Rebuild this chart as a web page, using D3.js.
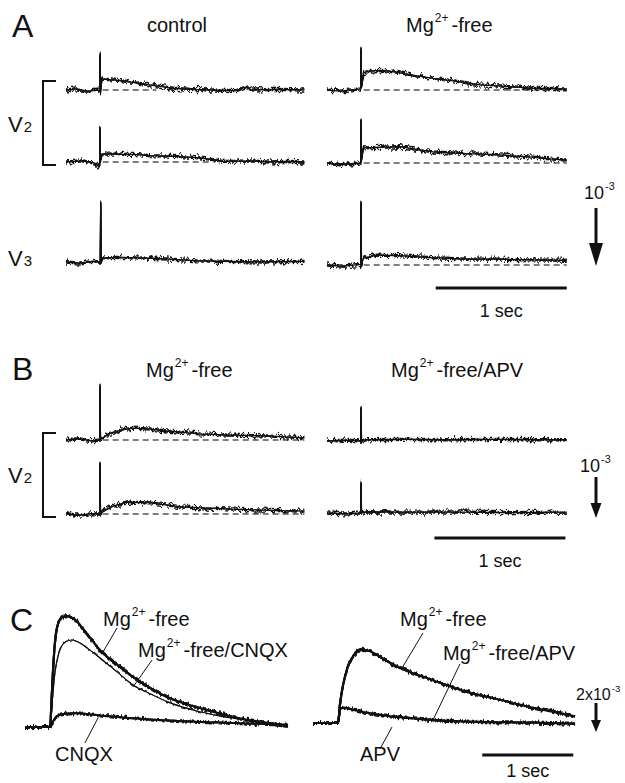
<!DOCTYPE html>
<html>
<head>
<meta charset="utf-8">
<script src="https://cdn.jsdelivr.net/npm/d3@7"></script>
<style>
  html, body { margin: 0; padding: 0; background: #fff; }
  svg { display: block; }
</style>
</head>
<body>
<script>
// time in seconds from start of sweep, signal in units of 1e-3

// Panel A, control
const aCtlV2top = [[0,0],[0.08,0.02],[0.16,-0.02],[0.257,0],[0.26,0.6],[0.263,-0.03],[0.275,0.19],[0.33,0.18],[0.42,0.16],[0.51,0.13],[0.6,0.1],[0.69,0.07],[0.82,0.03],[0.95,0.01],[1.1,0],[1.3,-0.01],[1.37,0.05],[1.42,0],[1.6,0.01],[1.82,0]];
const aCtlV2bot = [[0,0],[0.12,0.02],[0.22,-0.02],[0.25,-0.08],[0.257,-0.05],[0.26,0.58],[0.263,0.02],[0.275,0.14],[0.4,0.13],[0.51,0.13],[0.64,0.11],[0.76,0.1],[0.9,0.09],[1.02,0.07],[1.12,0.04],[1.2,0.01],[1.4,0.02],[1.55,0],[1.7,0.01],[1.82,0]];
const aCtlV3 = [[0,0],[0.1,-0.02],[0.2,0.01],[0.262,0],[0.265,1.03],[0.268,0],[0.28,0.07],[0.4,0.08],[0.55,0.07],[0.7,0.06],[0.85,0.04],[1.0,0.02],[1.2,0.01],[1.5,0],[1.82,0.01]];
// Panel A, Mg2+-free
const aMgV2top = [[0,0],[0.1,-0.02],[0.257,0.02],[0.26,0.72],[0.263,0.05],[0.28,0.3],[0.35,0.33],[0.43,0.34],[0.55,0.3],[0.7,0.24],[0.81,0.2],[0.95,0.16],[1.05,0.13],[1.17,0.09],[1.3,0.07],[1.45,0.05],[1.57,0.03],[1.83,0.02]];
const aMgV2bot = [[0,0],[0.1,-0.03],[0.257,0],[0.26,0.74],[0.263,0.05],[0.28,0.26],[0.4,0.27],[0.56,0.28],[0.7,0.23],[0.81,0.19],[1.07,0.16],[1.32,0.14],[1.57,0.1],[1.7,0.07],[1.83,0.05]];
const aMgV3 = [[0,0],[0.12,-0.02],[0.257,0.01],[0.26,1.07],[0.263,0.02],[0.28,0.12],[0.38,0.17],[0.55,0.16],[0.69,0.14],[0.88,0.12],[1.07,0.1],[1.3,0.1],[1.57,0.09],[1.83,0.08]];

// Panel B
const bMgTop = [[0,0],[0.1,0.03],[0.2,-0.02],[0.257,0],[0.26,1.32],[0.263,0],[0.28,0.05],[0.34,0.17],[0.42,0.24],[0.51,0.29],[0.62,0.27],[0.77,0.22],[1.02,0.15],[1.25,0.12],[1.53,0.1],[1.82,0.05]];
const bMgBot = [[0,0],[0.1,-0.03],[0.2,0.01],[0.257,0],[0.26,1.24],[0.263,0],[0.28,0.05],[0.34,0.17],[0.46,0.29],[0.64,0.27],[0.9,0.17],[1.27,0.12],[1.55,0.09],[1.82,0.07]];
const bApvTop = [[0,0],[0.15,0.02],[0.257,0],[0.26,0.8],[0.263,0],[0.3,0.03],[0.6,0.04],[0.9,0.03],[1.3,0.04],[1.6,0.03],[1.83,0.03]];
const bApvBot = [[0,0],[0.15,-0.02],[0.257,0],[0.26,0.73],[0.263,0],[0.3,0.03],[0.6,0.02],[1.0,0.02],[1.4,0.01],[1.83,0.02]];

// Panel C (left: CNQX experiment, right: APV experiment)
const cMgFreeL = [[0,0],[0.275,0],[0.297,2.5],[0.319,5.0],[0.341,6.5],[0.374,7.3],[0.418,7.6],[0.473,7.65],[0.538,7.45],[0.66,6.6],[0.824,5.3],[1.011,4.3],[1.187,3.45],[1.374,2.7],[1.56,2.07],[1.736,1.66],[1.923,1.31],[2.286,0.69],[2.659,0.28],[2.89,0.07]];
const cMgCnqx = [[0,0],[0.275,0],[0.297,1.5],[0.319,3.2],[0.352,4.6],[0.396,5.5],[0.451,5.9],[0.516,6.0],[0.604,5.8],[0.714,5.3],[0.824,4.76],[1.011,3.8],[1.187,2.9],[1.374,2.3],[1.56,1.75],[1.923,1.05],[2.286,0.6],[2.659,0.3],[2.89,0.1]];
const cCnqx = [[0,0],[0.275,0],[0.308,0.4],[0.352,0.75],[0.418,0.9],[0.549,0.95],[0.824,0.8],[1.187,0.6],[1.56,0.45],[1.923,0.35],[2.286,0.28],[2.659,0.2],[2.89,0.15]];
const cMgFreeR = [[0,0],[0.275,0],[0.297,1.3],[0.33,2.6],[0.374,3.7],[0.429,4.5],[0.484,4.9],[0.538,5.05],[0.626,4.95],[0.791,4.35],[0.956,3.8],[1.319,2.95],[1.692,2.15],[2.055,1.6],[2.418,1.05],[2.659,0.75],[2.879,0.45]];
const cApv = [[0,0],[0.275,0],[0.297,1.0],[0.34,1.05],[0.45,0.9],[0.6,0.7],[0.8,0.5],[0.96,0.4],[1.32,0.2],[1.69,0.1],[2.05,0.05],[2.42,0.02],[2.88,-0.05]];

// C label leaders: [t, value] at label end and at trace end
const cLeaders = [
  {side: 0, from: [1.011, 6.83], to: [0.857, 5.17]},
  {side: 0, from: [1.396, 4.62], to: [1.187, 2.76]},
  {side: 0, from: [0.659, -1.1], to: [0.802, 0.62]},
  {side: 1, from: [1.209, 6.21], to: [0.978, 3.79]},
  {side: 1, from: [1.615, 4.07], to: [1.319, 0.21]},
  {side: 1, from: [0.736, -1.79], to: [0.868, -0.28]}
];

const W = 625, H = 783;
const FONT = "'Liberation Sans', Arial, Helvetica, sans-serif";
const INK = "#111";

const svg = d3.select("body").append("svg")
  .attr("width", W).attr("height", H)
  .attr("font-family", FONT).attr("fill", INK);

const defs = svg.append("defs");

// recording noise texture: a few vertically jittered copies of the trace
function noiseFilter(id, freq, scale, seeds) {
  const f = defs.append("filter").attr("id", id)
    .attr("filterUnits", "userSpaceOnUse")
    .attr("x", 0).attr("y", 0).attr("width", W).attr("height", H)
    .attr("color-interpolation-filters", "sRGB");
  seeds.forEach((s, i) => {
    f.append("feTurbulence").attr("type", "fractalNoise")
      .attr("baseFrequency", freq).attr("numOctaves", 2).attr("seed", s).attr("result", "t" + i);
    f.append("feColorMatrix").attr("in", "t" + i).attr("type", "matrix")
      .attr("values", "0 0 0 0 0.5  0 1 0 0 0  0 0 0 0 0  0 0 0 0 1").attr("result", "m" + i);
    f.append("feDisplacementMap").attr("in", "SourceGraphic").attr("in2", "m" + i)
      .attr("scale", scale).attr("xChannelSelector", "R").attr("yChannelSelector", "G").attr("result", "d" + i);
  });
  const mg = f.append("feMerge");
  seeds.forEach((s, i) => mg.append("feMergeNode").attr("in", "d" + i));
  mg.append("feMergeNode").attr("in", "SourceGraphic");
}
noiseFilter("noiseAB", "0.3 0.05", 11, [4, 11, 23]);
noiseFilter("noiseC", "0.4 0.05", 7, [7, 19]);
noiseFilter("noiseThin", "0.4 0.05", 4, [31]);

function drawTrace(data, x, y, opts) {
  const line = d3.line().x(d => x(d[0])).y(d => y(d[1])).curve(opts.curve || d3.curveLinear);
  svg.append("path")
    .datum(data)
    .attr("d", line)
    .attr("fill", "none")
    .attr("stroke", INK)
    .attr("stroke-width", opts.width || 1.2)
    .attr("stroke-linejoin", "round")
    .attr("filter", opts.filter ? `url(#${opts.filter})` : null);
}

function dashed(x, y, t0, t1) {
  svg.append("line")
    .attr("x1", x(t0)).attr("x2", x(t1))
    .attr("y1", y(0)).attr("y2", y(0))
    .attr("stroke", "#000").attr("stroke-width", 1.1)
    .attr("stroke-dasharray", "6,4");
}

function label(x, y, parts, size, anchor) {
  const t = svg.append("text")
    .attr("x", x).attr("y", y)
    .attr("font-size", size)
    .attr("text-anchor", anchor || "start");
  let up = false;
  parts.forEach(p => {
    const ts = t.append("tspan").text(p.s);
    if (p.sup) {
      ts.attr("font-size", size * 0.6).attr("dy", -size * 0.48).attr("dx", 1);
      up = true;
    } else {
      ts.attr("font-size", size);
      if (up) { ts.attr("dy", size * 0.48).attr("dx", 3); up = false; }
    }
  });
  return t;
}
const mgFree = suffix => [{s: "Mg"}, {s: "2+", sup: true}, {s: "-free" + (suffix || "")}];

function vLabel(x, y, digit) {
  const t = svg.append("text").attr("x", x).attr("y", y).attr("font-size", 22);
  t.append("tspan").text("V");
  t.append("tspan").text(digit).attr("font-size", 15).attr("dx", 1);
}

function bracket(x, y0, y1) {
  svg.append("path")
    .attr("d", `M${x + 13},${y0}H${x}V${y1}H${x + 13}`)
    .attr("fill", "none").attr("stroke", INK).attr("stroke-width", 2);
}

function timeBar(x, tEnd, yPix, textY, size) {
  svg.append("line")
    .attr("x1", x(tEnd - 1)).attr("x2", x(tEnd))
    .attr("y1", yPix).attr("y2", yPix)
    .attr("stroke", INK).attr("stroke-width", 3);
  label((x(tEnd - 1) + x(tEnd)) / 2, textY, [{s: "1 sec"}], size, "middle");
}

function ampArrow(xPix, tipY, y, units, headW, headH, text, textX, textY, size) {
  const len = Math.abs(y(units) - y(0));
  svg.append("line")
    .attr("x1", xPix).attr("x2", xPix)
    .attr("y1", tipY - len).attr("y2", tipY - headH + 2)
    .attr("stroke", INK).attr("stroke-width", 3);
  svg.append("path")
    .attr("d", `M${xPix - headW / 2},${tipY - headH}L${xPix + headW / 2},${tipY - headH}L${xPix},${tipY}Z`)
    .attr("fill", INK);
  label(textX, textY, text, size, "start");
}

// ---------- Panel A ----------
const xA = [
  d3.scaleLinear().domain([0, 1]).range([66, 197]),
  d3.scaleLinear().domain([0, 1]).range([327, 458])
];
const unitA = 58;
const yRow = (base, unit) => d3.scaleLinear().domain([0, 1]).range([base, base - unit]);

const tracesA = [
  {d: aCtlV2top, col: 0, base: 90, dashTo: 0.69},
  {d: aCtlV2bot, col: 0, base: 162, dashTo: 1.12},
  {d: aCtlV3, col: 0, base: 262, dashTo: null},
  {d: aMgV2top, col: 1, base: 90, dashTo: 1.83},
  {d: aMgV2bot, col: 1, base: 163, dashTo: 1.83},
  {d: aMgV3, col: 1, base: 265, dashTo: 1.83}
];
tracesA.forEach(tr => {
  const y = yRow(tr.base, unitA);
  if (tr.dashTo) dashed(xA[tr.col], y, 0.28, tr.dashTo);
  drawTrace(tr.d, xA[tr.col], y, {filter: "noiseAB", width: 1.3});
});

label(12, 37, [{s: "A"}], 32);
label(177, 32, [{s: "control"}], 20, "middle");
label(406, 32, mgFree(), 20, "start");
bracket(43, 81, 165);
vLabel(8, 132, "2");
vLabel(8, 266, "3");
ampArrow(596, 266, yRow(265, unitA), 1, 14, 23, [{s: "10"}, {s: "-3", sup: true}], 584, 199, 18);
timeBar(xA[1], 1.83, 288, 317, 18);

// ---------- Panel B ----------
const unitB = 41;
const tracesB = [
  {d: bMgTop, col: 0, base: 440, dashTo: 1.82},
  {d: bMgBot, col: 0, base: 514, dashTo: 1.82},
  {d: bApvTop, col: 1, base: 441, dashTo: null},
  {d: bApvBot, col: 1, base: 513, dashTo: null}
];
tracesB.forEach(tr => {
  const y = yRow(tr.base, unitB);
  if (tr.dashTo) dashed(xA[tr.col], y, 0.28, tr.dashTo);
  drawTrace(tr.d, xA[tr.col], y, {filter: "noiseAB", width: 1.3});
});

label(12, 380, [{s: "B"}], 32);
label(146, 377, mgFree(), 20, "start");
label(391, 377, mgFree("/APV"), 20, "start");
bracket(43, 433, 517);
vLabel(8, 483, "2");
ampArrow(596, 518, yRow(513, unitB), 1, 11, 15, [{s: "10"}, {s: "-3", sup: true}], 580, 472, 18);
timeBar(xA[1], 1.82, 538, 567, 18);

// ---------- Panel C ----------
const xC = [
  d3.scaleLinear().domain([0, 1]).range([25, 116]),
  d3.scaleLinear().domain([0, 1]).range([313, 404])
];
const unitC = 14.5;
const yC = [yRow(727, unitC), yRow(723, unitC)];

drawTrace(cCnqx, xC[0], yC[0], {filter: "noiseC", width: 2.0, curve: d3.curveMonotoneX});
drawTrace(cMgCnqx, xC[0], yC[0], {filter: "noiseThin", width: 1.1, curve: d3.curveMonotoneX});
drawTrace(cMgFreeL, xC[0], yC[0], {filter: "noiseC", width: 2.2, curve: d3.curveMonotoneX});
drawTrace(cApv, xC[1], yC[1], {filter: "noiseC", width: 2.2, curve: d3.curveMonotoneX});
drawTrace(cMgFreeR, xC[1], yC[1], {filter: "noiseC", width: 2.2, curve: d3.curveMonotoneX});

cLeaders.forEach(l => {
  const x = xC[l.side], y = yC[l.side];
  svg.append("line")
    .attr("x1", x(l.from[0])).attr("y1", y(l.from[1]))
    .attr("x2", x(l.to[0])).attr("y2", y(l.to[1]))
    .attr("stroke", INK).attr("stroke-width", 1);
});

label(10, 631, [{s: "C"}], 32);
label(103, 626, mgFree(), 20, "start");
label(138, 657, mgFree("/CNQX"), 20, "start");
label(55, 761, [{s: "CNQX"}], 20, "start");
label(400, 626, mgFree(), 20, "start");
label(443, 660, mgFree("/APV"), 20, "start");
label(360, 761, [{s: "APV"}], 20, "start");
ampArrow(596, 732, yC[1], 2, 10, 12, [{s: "2x10"}, {s: "-3", sup: true}], 576, 700, 16);
timeBar(xC[1], 2.86, 755, 777, 18);
</script>
</body>
</html>
